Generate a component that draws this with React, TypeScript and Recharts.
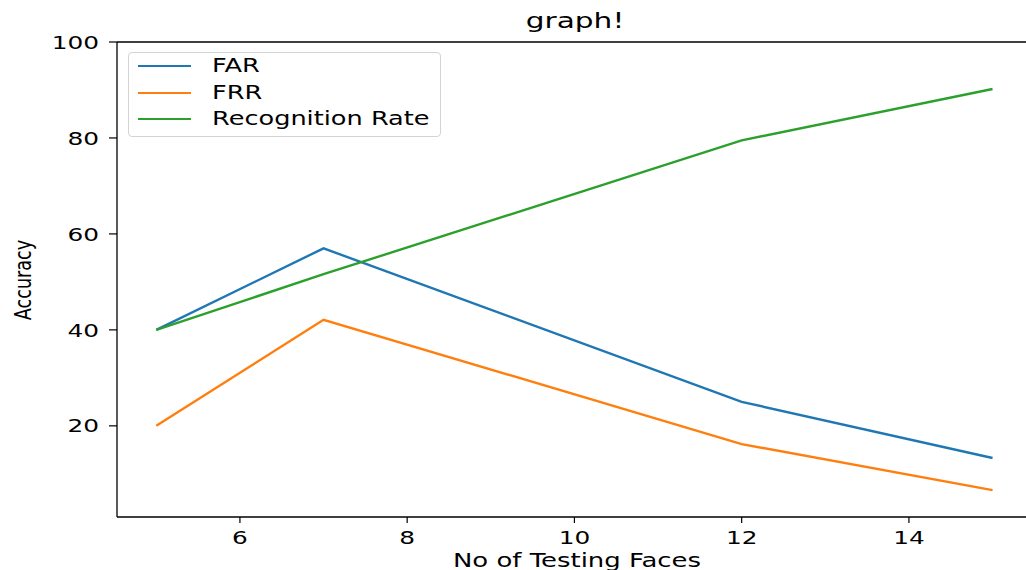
import React from 'react';
import { LineChart, Line, XAxis, YAxis, Legend, ReferenceLine } from 'recharts';

// values
const faces = [5, 7, 12, 15];
const far = [40, 57, 25, 13.3];
const frr = [20, 42.1, 16.2, 6.6];
const recognition = [40, 51.6, 79.5, 90.2];

const xTicks = [6, 8, 10, 12, 14];
const yTicks = [20, 40, 60, 80, 100];

const data = faces.map((x, i) => ({
  x,
  far: far[i],
  frr: frr[i],
  recognition: recognition[i],
}));

const FONT = '"DejaVu Sans", sans-serif';
// the original figure was stretched more horizontally than vertically
const STRETCH = 'scale(1.6,1.19)';

const YTick = ({ x, y, payload }: any) => (
  <g transform={`translate(${x},${y})`}>
    <text transform={STRETCH} textAnchor="end" dy="0.36em" fontSize={15.5} fontFamily={FONT} fill="#000">
      {payload.value}
    </text>
  </g>
);

const XTick = ({ x, y, payload }: any) => (
  <g transform={`translate(${x},${y})`}>
    <text transform={STRETCH} textAnchor="middle" dy="0.76em" fontSize={15.5} fontFamily={FONT} fill="#000">
      {payload.value}
    </text>
  </g>
);

const XLabel = () => (
  <g transform="translate(577,567)">
    <text transform={STRETCH} textAnchor="middle" fontSize={16.2} fontFamily={FONT} fill="#000">
      No of Testing Faces
    </text>
  </g>
);

const YLabel = () => (
  <g transform="translate(31,280)">
    <text transform={`${STRETCH} rotate(-90)`} textAnchor="middle" fontSize={14.8} fontFamily={FONT} fill="#000">
      Accuracy
    </text>
  </g>
);

const LegendBox = ({ payload }: any) => (
  <div
    style={{
      position: 'relative',
      width: 311,
      height: 83,
      border: '1px solid #d3d3d3',
      borderRadius: 4,
      background: 'rgba(255,255,255,0.8)',
    }}
  >
    {(payload || []).map((entry: any, i: number) => (
      <div key={entry.value} style={{ position: 'absolute', left: 0, top: 13 + i * 26.5, height: 0 }}>
        <span
          style={{
            position: 'absolute',
            left: 9,
            top: -1,
            width: 53,
            height: 2.2,
            background: entry.color,
          }}
        />
        <span
          style={{
            position: 'absolute',
            left: 83,
            top: -10,
            fontFamily: FONT,
            fontSize: 16,
            lineHeight: '20px',
            whiteSpace: 'nowrap',
            transform: STRETCH,
            transformOrigin: 'left center',
            color: '#000',
          }}
        >
          {entry.value}
        </span>
      </div>
    ))}
  </div>
);

export default function App() {
  return (
    <div style={{ position: 'absolute', left: 0, top: 0, width: 1026, height: 570 }}>
      <LineChart width={1026} height={570} data={data} margin={{ top: 42, right: 0, bottom: 0, left: 0 }}>
        <XAxis
          dataKey="x"
          type="number"
          domain={[4.53, 15.4]}
          ticks={xTicks}
          allowDataOverflow
          height={53}
          tickSize={6}
          tickMargin={7}
          tick={<XTick />}
          axisLine={{ stroke: '#000', strokeWidth: 1.3 }}
          tickLine={{ stroke: '#000', strokeWidth: 1.2 }}
          label={<XLabel />}
        />
        <YAxis
          type="number"
          domain={[1, 100]}
          ticks={yTicks}
          allowDataOverflow
          width={117}
          tickSize={8}
          tickMargin={10}
          tick={<YTick />}
          axisLine={{ stroke: '#000', strokeWidth: 1.3 }}
          tickLine={{ stroke: '#000', strokeWidth: 1.2 }}
          label={<YLabel />}
        />
        <ReferenceLine y={100} stroke="#000" strokeWidth={1.3} />
        <Legend
          verticalAlign="top"
          content={<LegendBox />}
          wrapperStyle={{ position: 'absolute', left: 128, top: 52, width: 313, height: 0, overflow: 'visible' }}
        />
        <Line
          dataKey="far"
          name="FAR"
          stroke="#1f77b4"
          strokeWidth={2.4}
          dot={false}
          isAnimationActive={false}
        />
        <Line
          dataKey="frr"
          name="FRR"
          stroke="#ff7f0e"
          strokeWidth={2.4}
          dot={false}
          isAnimationActive={false}
        />
        <Line
          dataKey="recognition"
          name="Recognition Rate"
          stroke="#2ca02c"
          strokeWidth={2.4}
          dot={false}
          isAnimationActive={false}
        />
      </LineChart>
      <div
        style={{
          position: 'absolute',
          left: 575,
          top: 8,
          transform: `translateX(-50%) ${STRETCH}`,
          transformOrigin: 'center top',
          fontFamily: FONT,
          fontSize: 18.5,
          lineHeight: '22px',
          color: '#000',
          whiteSpace: 'nowrap',
        }}
      >
        graph!
      </div>
    </div>
  );
}
